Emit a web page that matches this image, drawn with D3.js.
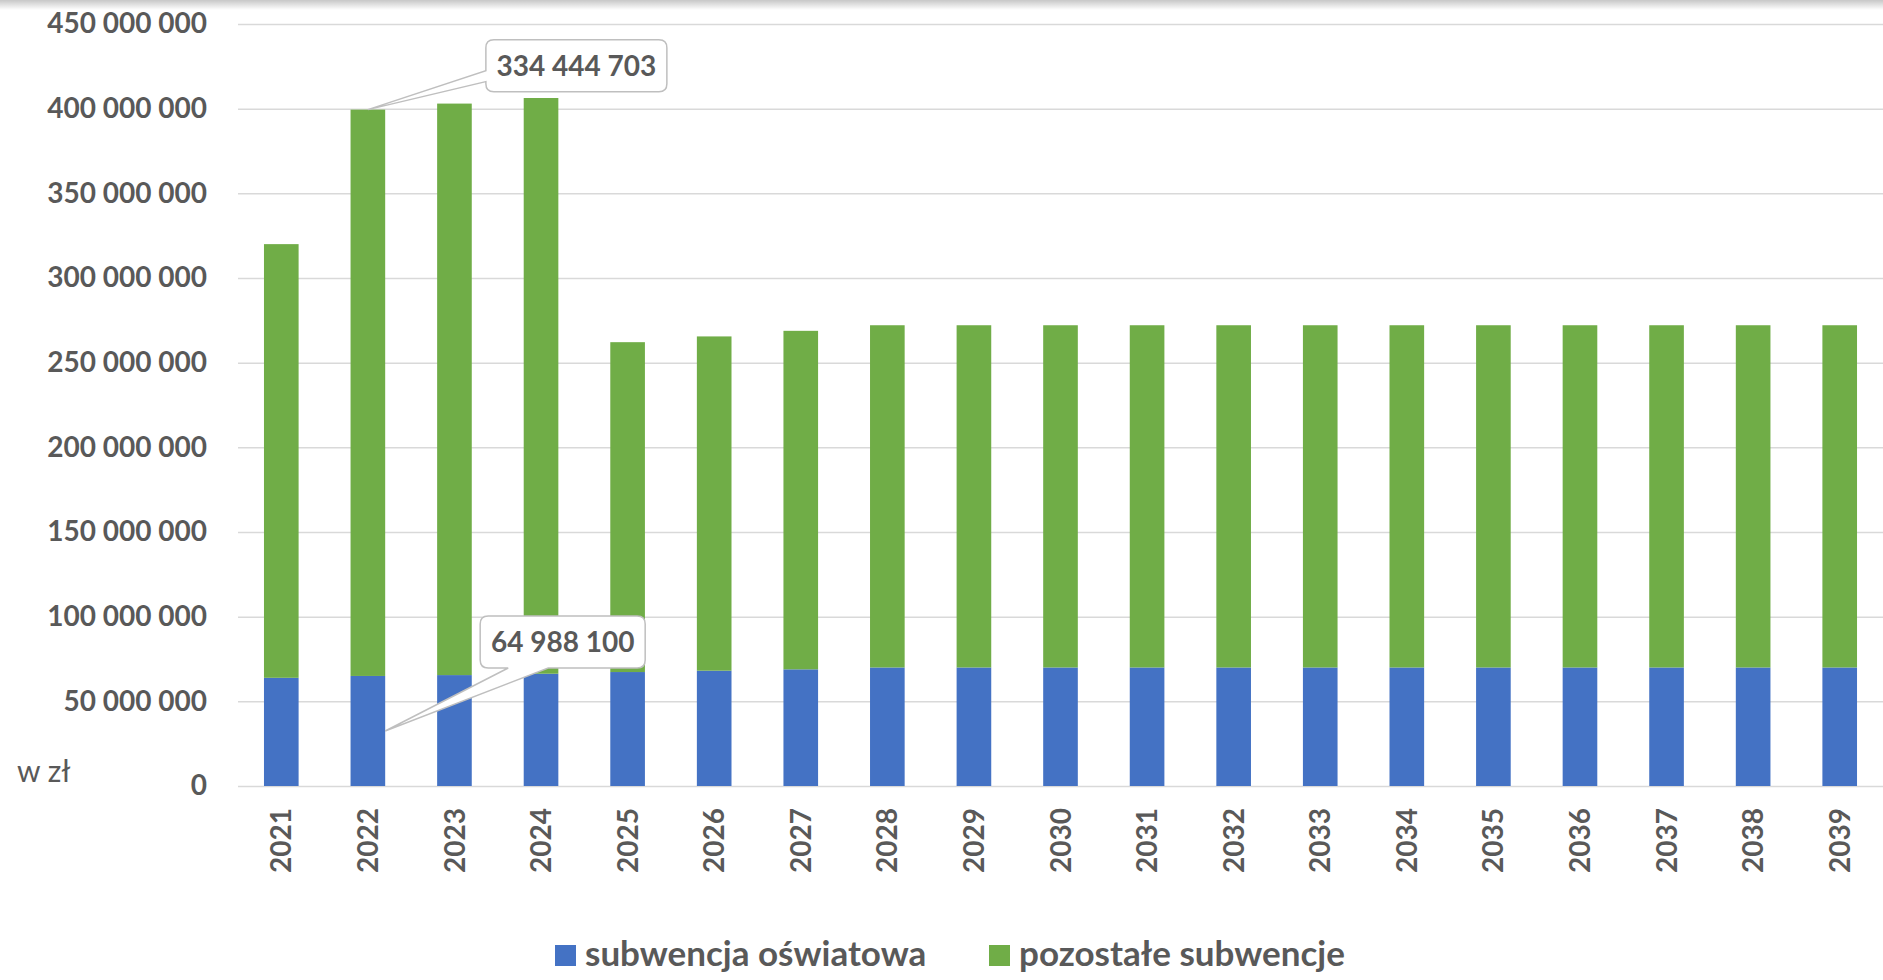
<!DOCTYPE html>
<html>
<head>
<meta charset="utf-8">
<script src="https://cdn.jsdelivr.net/npm/d3@7"></script>
<style>
  html, body { margin: 0; padding: 0; background: #fff; }
  svg { display: block; }
</style>
</head>
<body>
<svg id="chart"></svg>
<script>
// data (zł)
const years = ["2021","2022","2023","2024","2025","2026","2027","2028","2029","2030",
               "2031","2032","2033","2034","2035","2036","2037","2038","2039"];
const subwencjaOswiatowa = [63900000, 64988100, 65500000, 66300000, 67300000, 68100000, 68900000,
  70000000, 70000000, 70000000, 70000000, 70000000, 70000000, 70000000, 70000000, 70000000,
  70000000, 70000000, 70000000];
const pozostaleSubwencje = [256100000, 334444703, 337500000, 340000000, 194800000, 197400000, 199900000,
  202100000, 202100000, 202100000, 202100000, 202100000, 202100000, 202100000, 202100000, 202100000,
  202100000, 202100000, 202100000];
const seriesNames = ["subwencja oświatowa", "pozostałe subwencje"];
const yTicks = [0, 50000000, 100000000, 150000000, 200000000, 250000000, 300000000, 350000000, 400000000, 450000000];

const width = 1883;
const height = 980;
const margin = { top: 24, right: 0, bottom: 194, left: 238 };
const textColor = "#595959";
const gridColor = "#d9d9d9";
const colors = ["#4472C4", "#70AD47"];
const font = "Lato, 'Open Sans', sans-serif";

const svg = d3.select("#chart")
    .attr("width", width)
    .attr("height", height);

// soft shadow on top edge
const defs = svg.append("defs");
const grad = defs.append("linearGradient")
    .attr("id", "topShade")
    .attr("x1", 0).attr("y1", 0).attr("x2", 0).attr("y2", 1);
grad.append("stop").attr("offset", "0%").attr("stop-color", "#000").attr("stop-opacity", 0.22);
grad.append("stop").attr("offset", "100%").attr("stop-color", "#000").attr("stop-opacity", 0);
svg.append("rect")
    .attr("x", 0).attr("y", 0)
    .attr("width", width).attr("height", 10)
    .attr("fill", "url(#topShade)");

const plTable = d3.formatLocale({ decimal: ",", thousands: "\u00a0", grouping: [3], currency: ["", " zł"] });
const fmt = plTable.format(",d");

const x = d3.scaleBand()
    .domain(years)
    .range([margin.left, width - margin.right])
    .paddingInner(0.6)
    .paddingOuter(0.3);

const y = d3.scaleLinear()
    .domain([0, 450000000])
    .range([height - margin.bottom, margin.top]);

// gridlines
svg.append("g")
    .attr("transform", `translate(${margin.left},0)`)
    .call(d3.axisLeft(y).tickValues(yTicks).tickSize(-(width - margin.left - margin.right)).tickFormat(""))
    .call(g => g.select(".domain").remove())
    .call(g => g.selectAll(".tick line").attr("stroke", gridColor).attr("stroke-width", 1.5));

// y labels
svg.append("g")
    .attr("transform", `translate(${margin.left},0)`)
    .call(d3.axisLeft(y).tickValues(yTicks).tickSize(0).tickPadding(31).tickFormat(fmt))
    .call(g => g.select(".domain").remove())
    .call(g => g.selectAll("text")
        .attr("fill", textColor)
        .style("font-family", font)
        .style("font-size", "28px")
        .style("font-weight", "bold"));

// stack the data
const rows = years.map((yr, i) => ({ year: yr, a: subwencjaOswiatowa[i], b: pozostaleSubwencje[i] }));
const stacked = d3.stack().keys(["a", "b"])(rows);

svg.append("g")
    .selectAll("g")
    .data(stacked)
    .join("g")
    .attr("fill", (d, i) => colors[i])
    .selectAll("rect")
    .data(d => d)
    .join("rect")
    .attr("x", d => x(d.data.year))
    .attr("y", d => y(d[1]))
    .attr("width", x.bandwidth())
    .attr("height", d => y(d[0]) - y(d[1]));

// x labels, rotated
svg.append("g")
    .selectAll("text")
    .data(years)
    .join("text")
    .attr("transform", d => `translate(${x(d) + x.bandwidth() / 2}, ${height - margin.bottom + 22}) rotate(-90)`)
    .attr("text-anchor", "end")
    .attr("dy", "0.36em")
    .attr("fill", textColor)
    .style("font-family", font)
    .style("font-size", "28px")
    .style("font-weight", "bold")
    .text(d => d);

// unit label
svg.append("text")
    .attr("x", 17)
    .attr("y", 782)
    .attr("fill", textColor)
    .style("font-family", font)
    .style("font-size", "30px")
    .text("w zł");

// callout shape: rounded box with a wedge to (tx, ty)
function calloutPath(bx, by, bw, bh, r, side, w0, w1, tx, ty) {
  let p = `M${bx + r},${by}`;
  p += `L${bx + bw - r},${by}Q${bx + bw},${by} ${bx + bw},${by + r}`;
  p += `L${bx + bw},${by + bh - r}Q${bx + bw},${by + bh} ${bx + bw - r},${by + bh}`;
  if (side === "bottom") {
    p += `L${bx + w1},${by + bh}L${tx},${ty}L${bx + w0},${by + bh}`;
  }
  p += `L${bx + r},${by + bh}Q${bx},${by + bh} ${bx},${by + bh - r}`;
  if (side === "left") {
    p += `L${bx},${by + w1}L${tx},${ty}L${bx},${by + w0}`;
  }
  p += `L${bx},${by + r}Q${bx},${by} ${bx + r},${by}Z`;
  return p;
}

const i22 = years.indexOf("2022");
const callouts = [
  { // green segment of 2022
    tx: x(years[i22]) + x.bandwidth() / 2,
    ty: y(subwencjaOswiatowa[i22] + pozostaleSubwencje[i22]),
    dx: 118, dy: -70, w: 181, h: 52, side: "left", w0: 31, w1: 42,
    label: fmt(pozostaleSubwencje[i22])
  },
  { // blue segment of 2022
    tx: x(years[i22]) + x.bandwidth(),
    ty: y(subwencjaOswiatowa[i22] / 2),
    dx: 95, dy: -115, w: 165, h: 52, side: "bottom", w0: 28, w1: 68,
    label: fmt(subwencjaOswiatowa[i22])
  }
];

callouts.forEach(c => {
  const bx = c.tx + c.dx, by = c.ty + c.dy;
  svg.append("path")
      .attr("d", calloutPath(bx, by, c.w, c.h, 8, c.side, c.w0, c.w1, c.tx, c.ty))
      .attr("fill", "#fff")
      .attr("stroke", "#bfbfbf")
      .attr("stroke-width", 1.5);
  svg.append("text")
      .attr("x", bx + c.w / 2)
      .attr("y", by + c.h / 2)
      .attr("dy", "0.36em")
      .attr("text-anchor", "middle")
      .attr("fill", textColor)
      .style("font-family", font)
      .style("font-size", "28px")
      .style("font-weight", "bold")
      .text(c.label);
});

// legend
const legendX = [555, 989];
const legend = svg.append("g")
    .selectAll("g")
    .data(seriesNames)
    .join("g")
    .attr("transform", (d, i) => `translate(${legendX[i]}, 945)`);
legend.append("rect")
    .attr("width", 21)
    .attr("height", 21)
    .attr("fill", (d, i) => colors[i]);
legend.append("text")
    .attr("x", 30)
    .attr("y", 21)
    .attr("fill", textColor)
    .style("font-family", font)
    .style("font-size", "35px")
    .style("font-weight", "bold")
    .text(d => d);
</script>
</body>
</html>
